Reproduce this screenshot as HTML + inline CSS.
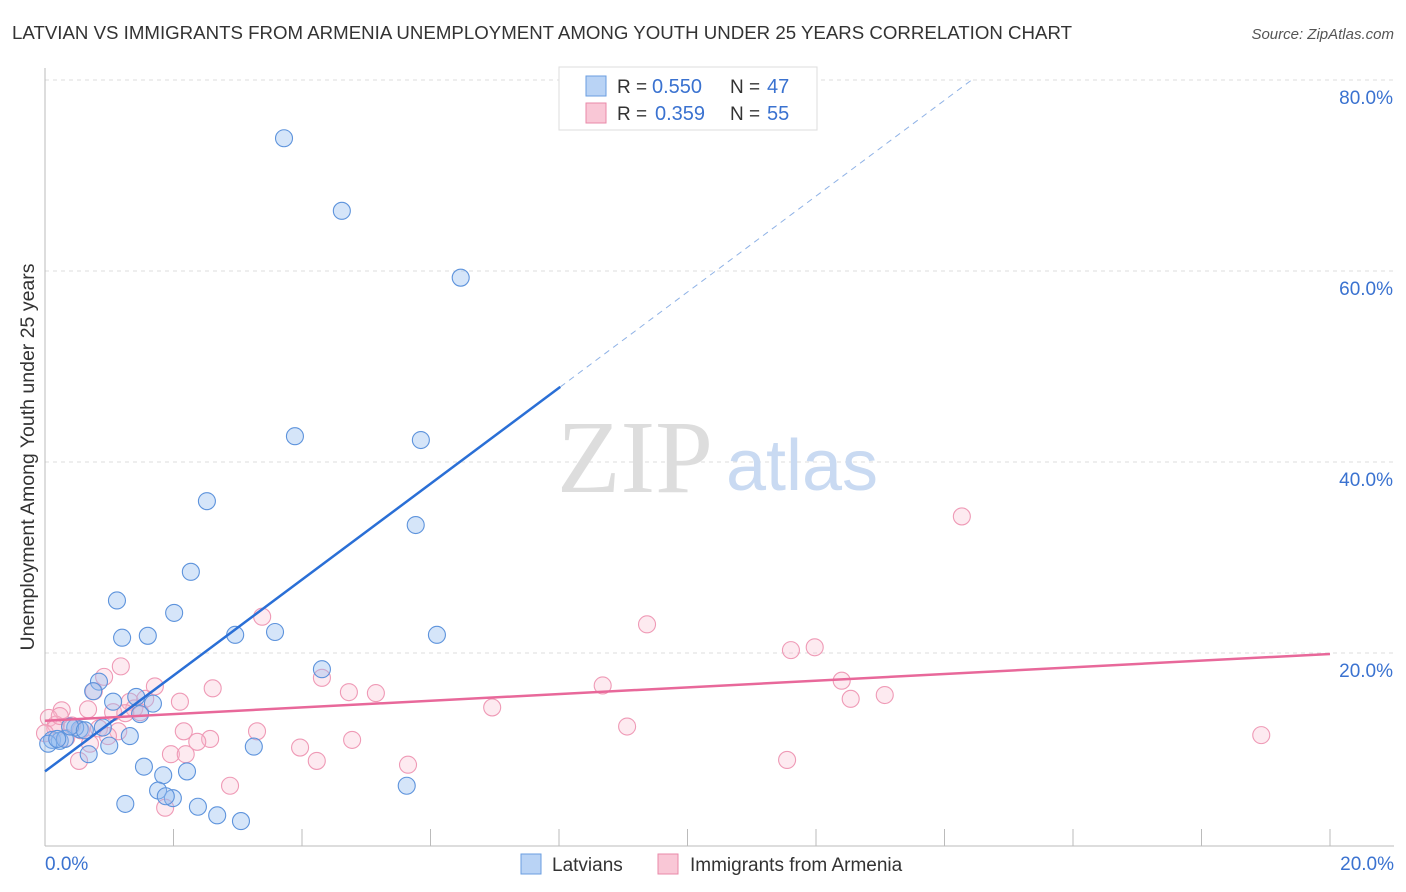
<!DOCTYPE html>
<html><head><meta charset="utf-8">
<style>
body{margin:0;background:#fff;font-family:"Liberation Sans",sans-serif;}
svg{display:block}
</style></head>
<body>
<svg id="chart" width="1406" height="892" xmlns="http://www.w3.org/2000/svg">
<text x="12" y="39" font-size="18" fill="#333" textLength="1060" lengthAdjust="spacingAndGlyphs">LATVIAN VS IMMIGRANTS FROM ARMENIA UNEMPLOYMENT AMONG YOUTH UNDER 25 YEARS CORRELATION CHART</text>
<text x="1394" y="39" font-size="15" fill="#555" font-style="italic" text-anchor="end">Source: ZipAtlas.com</text>
<g id="grid"></g>
<g>
<text x="635" y="492" font-size="104" fill="#ddd" font-family="Liberation Serif,serif" text-anchor="middle">ZIP</text>
<text x="802" y="490" font-size="72" fill="#c9daf2" text-anchor="middle">atlas</text>
</g>
<g id="points"></g>
<g id="lines"></g>
<text transform="translate(34,457) rotate(-90)" font-size="19.5" fill="#333" text-anchor="middle">Unemployment Among Youth under 25 years</text>
<g>
<rect x="559" y="67" width="258" height="63" fill="#fff" stroke="#ddd"/>
<rect x="586" y="76" width="20" height="20" fill="#b9d3f5" stroke="#6a9ee0"/>
<rect x="586" y="103" width="20" height="20" fill="#f9c7d6" stroke="#e98aa8"/>
<text x="617" y="93" font-size="19" fill="#333">R =</text>
<text x="652" y="93" font-size="20" fill="#3a72d0">0.550</text>
<text x="730" y="93" font-size="19" fill="#333">N =</text>
<text x="767" y="93" font-size="20" fill="#3a72d0">47</text>
<text x="617" y="120" font-size="19" fill="#333">R =</text>
<text x="655" y="120" font-size="20" fill="#3a72d0">0.359</text>
<text x="730" y="120" font-size="19" fill="#333">N =</text>
<text x="767" y="120" font-size="20" fill="#3a72d0">55</text>
</g>
<g>
<rect x="521" y="854" width="20" height="20" fill="#b9d3f5" stroke="#6a9ee0"/>
<text x="552" y="871" font-size="19" fill="#333">Latvians</text>
<rect x="658" y="854" width="20" height="20" fill="#f9c7d6" stroke="#e98aa8"/>
<text x="690" y="871" font-size="19" fill="#333">Immigrants from Armenia</text>
</g>
</svg>
<script>
const blueX=[3.72,4.62,6.47,3.89,5.85,2.52,5.77,2.27,1.12,2.01,1.20,1.60,2.96,3.58,6.10,4.31,0.84,0.75,1.42,1.06,1.68,1.48,0.90,0.54,0.47,1.32,0.11,0.23,0.31,0.05,1.00,0.68,3.25,1.54,1.84,2.21,1.25,1.76,1.99,1.88,2.38,2.68,3.05,5.63,0.39,0.19,0.62];
const blueY=[73.9,66.3,59.3,42.7,42.3,35.9,33.4,28.5,25.5,24.2,21.6,21.8,21.9,22.2,21.9,18.3,17.0,16.0,15.4,14.9,14.7,13.6,12.2,12.0,12.2,11.3,10.9,10.8,11.0,10.5,10.3,9.4,10.2,8.1,7.2,7.6,4.2,5.6,4.8,5.0,3.9,3.0,2.4,6.1,12.3,11.0,11.9];
const pinkX=[14.27,9.37,3.38,11.98,11.61,12.40,8.68,13.07,12.54,1.18,0.92,1.71,2.61,4.31,4.73,5.15,2.10,6.96,0.76,1.32,1.39,0.67,0.26,1.06,1.48,0.06,0.17,0.42,0.56,0.84,1.14,2.16,3.30,9.06,18.93,2.57,2.37,4.78,3.97,1.96,2.19,4.23,0.53,5.65,11.55,2.88,1.87,0.16,0.33,0.0,0.23,1.56,0.98,0.70,1.25];
const pinkY=[34.3,23.0,23.8,20.6,20.3,17.1,16.6,15.6,15.2,18.6,17.5,16.5,16.3,17.4,15.9,15.8,14.9,14.3,16.0,14.9,14.2,14.1,14.0,13.8,13.8,13.2,12.5,12.4,11.9,12.1,11.8,11.8,11.8,12.3,11.4,11.0,10.7,10.9,10.1,9.4,9.4,8.7,8.7,8.3,8.8,6.1,3.8,12.1,11.1,11.6,13.4,15.2,11.3,10.5,13.7];
const yTicks=[20,40,60,80];
const xTickLabels=["0.0%","20.0%"];
const blueLine=[7.6,5.02];
const pinkLine=[12.9,0.35];
const NS="http://www.w3.org/2000/svg";
const xs=v=>45+v*64.25, ys=v=>844-v*9.55;
function mk(t,a,p){const e=document.createElementNS(NS,t);for(const k in a)e.setAttribute(k,a[k]);p.appendChild(e);return e;}
const grid=document.getElementById('grid');
yTicks.forEach(t=>{
 const l=mk('line',{x1:45,x2:1394,y1:ys(t),y2:ys(t),stroke:'#ddd','stroke-dasharray':'4,4'},grid);
 
 
 const tx=mk('text',{x:1393,y:ys(t)+24,'font-size':19,fill:'#3a72d0','text-anchor':'end'},grid);
 tx.textContent=t.toFixed(1)+'%';
 
 
});
mk('line',{x1:45,x2:45,y1:68,y2:846,stroke:'#bbb'},grid);
mk('line',{x1:45,x2:1394,y1:846,y2:846,stroke:'#bbb'},grid);
for(let i=0;i<=10;i++){mk('line',{x1:xs(i*2),x2:xs(i*2),y1:829,y2:846,stroke:'#bbb'},grid);}
const xl0=mk('text',{x:45,y:870,'font-size':19,fill:'#3a72d0'},grid);xl0.textContent=xTickLabels[0];


const xl1=mk('text',{x:1394,y:870,'font-size':19,fill:'#3a72d0','text-anchor':'end'},grid);xl1.textContent=xTickLabels[1];


const pts=document.getElementById('points');
pinkX.forEach((x,i)=>{const c=mk('circle',{cx:xs(x),cy:ys(pinkY[i]),r:8.5,fill:'rgba(248,185,205,0.3)',stroke:'#ef9ab6','stroke-width':1.1},pts);
 
 });
blueX.forEach((x,i)=>{const c=mk('circle',{cx:xs(x),cy:ys(blueY[i]),r:8.5,fill:'rgba(150,190,240,0.4)',stroke:'#5d93dc','stroke-width':1.1},pts);
 
 });
const ln=document.getElementById('lines');
const b1=mk('line',{x1:xs(0),y1:ys(blueLine[0]),x2:xs(8.02),y2:ys(blueLine[0]+blueLine[1]*8.02),stroke:'#2a6fd6','stroke-width':2.5},ln);


const b2=mk('line',{x1:xs(8.02),y1:ys(blueLine[0]+blueLine[1]*8.02),x2:xs((80-blueLine[0])/blueLine[1]),y2:ys(80),stroke:'#8fb2e6','stroke-width':1,'stroke-dasharray':'6,5'},ln);


const p1=mk('line',{x1:xs(0),y1:ys(pinkLine[0]),x2:xs(20),y2:ys(pinkLine[0]+pinkLine[1]*20),stroke:'#e8689a','stroke-width':2.5},ln);


</script>
</body></html>
